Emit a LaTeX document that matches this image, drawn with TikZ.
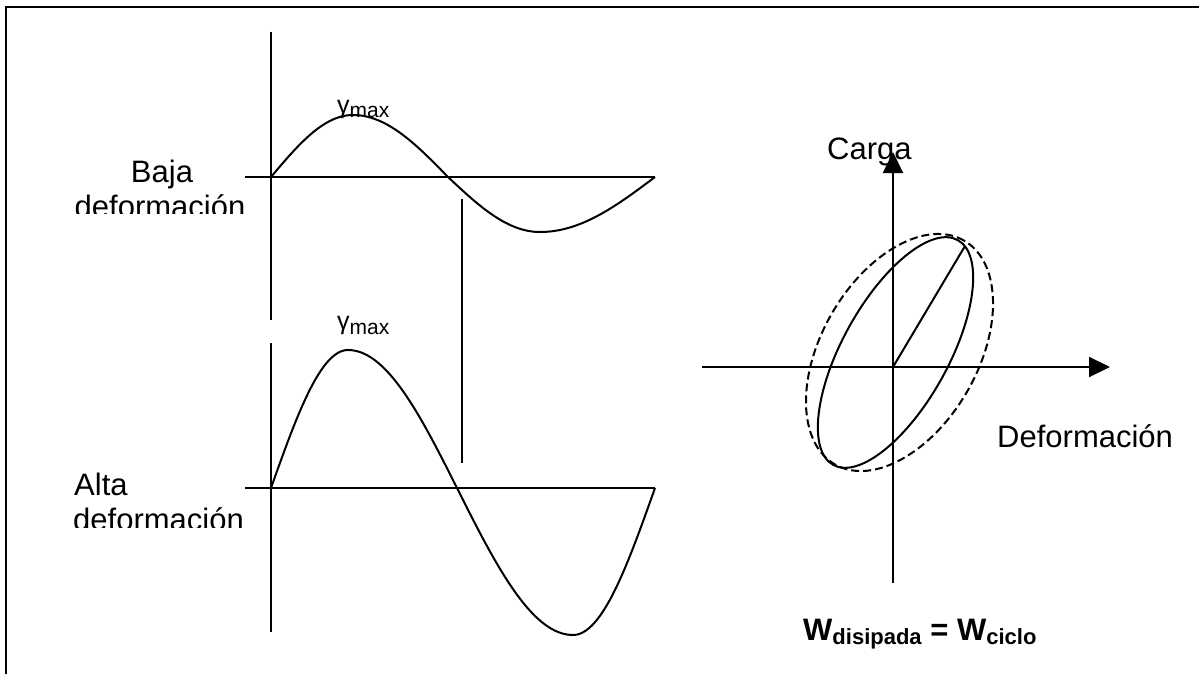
\documentclass[tikz,border=0pt]{standalone}
\usepackage{fontspec}
\setmainfont{Liberation Sans}
\usetikzlibrary{arrows.meta}
\newcommand{\gmx}{\raisebox{5pt}{\fontsize{25}{25}\selectfont γ}max}
\begin{document}
\begin{tikzpicture}[x=1pt,y=-1pt,
  ln/.style={line width=2pt},
  frame/.style={line width=2.8pt},
  lbl/.style={inner sep=0pt, font=\fontsize{31}{34}\selectfont},
  sm/.style={inner sep=0pt, font=\fontsize{21}{24}\selectfont},
  arr/.style={line width=2pt,-{Triangle[width=20pt,length=21pt]}},
  dsh/.style={line width=2pt, dash pattern=on 8pt off 4pt}]
\useasboundingbox (0,0) rectangle (1199,674);
% frame
\coordinate (f1) at (6,674);
\coordinate (f2) at (6,7);
\coordinate (f3) at (1199,7);
\draw[frame] (f1) -- (f2) -- (f3);

% ---------- top (low strain) ----------
\coordinate (tv1) at (271,32);
\coordinate (tv2) at (271,320);
\coordinate (th1) at (245,177);
\coordinate (th2) at (655,177);
\draw[ln] (tv1) -- (tv2);
\draw[ln] (th1) -- (th2);
\draw[ln] plot[domain=0:90,samples=40] ({271+82*\x/90},{177-62*sin(\x)})
  -- plot[domain=90:180,samples=40] ({353+95*(\x-90)/90},{177-62*sin(\x)})
  -- plot[domain=180:270,samples=40] ({448+92*(\x-180)/90},{177-55*sin(\x)})
  -- plot[domain=270:360,samples=40] ({540+115*(\x-270)/90},{177-55*sin(\x)});
\node[sm, anchor=base west] (g1) at (337,118) {\gmx};
\node[lbl, anchor=base] (baja) at (162,182) {Baja};
\begin{scope}
  \clip (40,190) rectangle (265,213);
  \node[lbl, anchor=base] (def1) at (160,217) {deformación};
\end{scope}

% middle vertical line
\coordinate (m1) at (462,199);
\coordinate (m2) at (462,463);
\draw[ln] (m1) -- (m2);

% ---------- bottom (high strain) ----------
\coordinate (bv1) at (271,343);
\coordinate (bv2) at (271,632);
\coordinate (bh1) at (245,488);
\coordinate (bh2) at (655,488);
\draw[ln] (bv1) -- (bv2);
\draw[ln] (bh1) -- (bh2);
\draw[ln] plot[domain=0:90,samples=40] ({271+77*\x/90},{488-138*sin(\x)})
  -- plot[domain=90:180,samples=40] ({348+109*(\x-90)/90},{488-138*sin(\x)})
  -- plot[domain=180:270,samples=40] ({457+116*(\x-180)/90},{488-147*sin(\x)})
  -- plot[domain=270:360,samples=40] ({573+82*(\x-270)/90},{488-147*sin(\x)});
\node[sm, anchor=base west] (g2) at (337,334) {\gmx};
\node[lbl, anchor=base west] (alta) at (74,495) {Alta};
\begin{scope}
  \clip (40,500) rectangle (265,527);
  \node[lbl, anchor=base west] (def2) at (73,530) {deformación};
\end{scope}

% ---------- right (hysteresis) ----------
\coordinate (o) at (893,367);
\coordinate (vb) at (893,583);
\coordinate (vt) at (893,152);
\coordinate (hl) at (702,367);
\coordinate (hr) at (1110,367);
\coordinate (p) at (965,246);
\draw[arr] (vb) -- (vt);
\draw[arr] (hl) -- (hr);
\draw[ln, shift={(895.5,352.5)}, rotate=61] (0,0) ellipse [x radius=128.5pt, y radius=53pt];
\draw[dsh, shift={(899.5,352.5)}, rotate=60] (0,0) ellipse [x radius=129.2pt, y radius=78.1pt];
\draw[ln] (o) -- (p);
\node[lbl, anchor=base west] (carga) at (827,159) {Carga};
\node[lbl, anchor=base west] (defx) at (997,447) {Deformación};
\node[inner sep=0pt, anchor=base west, font=\fontsize{31}{34}\selectfont\bfseries] (w) at (803,640)
  {W\raisebox{-4pt}{\fontsize{22}{24}\selectfont disipada} = W\raisebox{-4pt}{\fontsize{22}{24}\selectfont ciclo}};
\end{tikzpicture}
\end{document}
